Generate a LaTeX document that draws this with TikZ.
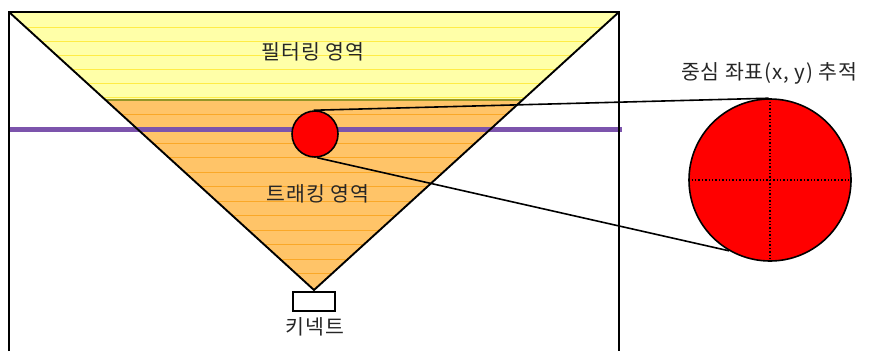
\documentclass[tikz,border=0pt]{standalone}
\usepackage{fontspec}
\setmainfont{Noto Sans CJK KR}
\newfontfamily\krfont[LetterSpace=4]{Noto Sans CJK KR}
\definecolor{yelbase}{RGB}{255,255,168}
\definecolor{yelline}{RGB}{255,236,70}
\definecolor{orbase}{RGB}{255,196,104}
\definecolor{orline}{RGB}{250,168,40}
\definecolor{purp}{RGB}{124,84,172}
\definecolor{sep}{RGB}{150,150,40}
\definecolor{redfill}{RGB}{255,0,0}
\tikzset{
  frameline/.style={line width=2pt, black},
  edgeline/.style={line width=1.9pt, black},
  ball/.style={circle, draw=black, line width=1.6pt, fill=redfill, inner sep=0pt},
  label/.style={font=\krfont\fontsize{20.5}{23}\selectfont, text=black!85, inner sep=0pt},
  zoomline/.style={line width=1.6pt, black},
  kinectbox/.style={draw=black, line width=1.7pt, fill=white, minimum width=42pt, minimum height=19pt, inner sep=0pt}
}
\begin{document}
\begin{tikzpicture}[x=1pt,y=-1pt]
\useasboundingbox (0,0) rectangle (874,351);
% coordinates
\coordinate (tl) at (9,12);
\coordinate (tr) at (619,12);
\coordinate (apex) at (314,290);
% fills
\begin{scope}
  \clip (tl) -- (tr) -- (apex) -- cycle;
  \fill[yelbase] (0,0) rectangle (874,100);
  \fill[orbase] (0,100) rectangle (874,351);
  \foreach \yy in {27,41,55,69,83,97}{
    \draw[yelline, line width=0.8pt] (0,\yy) -- (874,\yy);
  }
  \foreach \yy in {114,128.5,143,157.5,172,186.5,201,215.5,230,244.5,259,273.5,288}{
    \draw[orline, line width=0.8pt] (0,\yy) -- (874,\yy);
  }
  \draw[sep, line width=1.4pt] (0,100) -- (874,100);
\end{scope}
% purple scan line
\draw[purp, line width=5pt] (9,129) -- (622,129);
% frame
\draw[frameline] (9,351) -- (tl) -- (tr) -- (619,351);
% triangle edges
\draw[edgeline] (tl) -- (apex) -- (tr);
% kinect
\node[kinectbox] (kinect) at (314,301.5) {};
\node[label] (kinectlbl) at (315,327) {키넥트};
% labels
\node[label] (filter) at (313,52) {필터링 영역};
\node[label] (track) at (318,194) {트래킹 영역};
\node[label] (center) at (769,73) {중심 좌표(x, y) 추적};
% circles
\node[ball, minimum size=46pt] (small) at (315,134) {};
\node[ball, minimum size=162pt] (big) at (770,180) {};
\draw[zoomline] (small.93) -- (big.91);
\draw[zoomline] (small.-85) -- (big.240);
\draw[dotted, line width=1.4pt] (big.west) -- (big.east);
\draw[dotted, line width=1.4pt] (big.north) -- (big.south);
\end{tikzpicture}
\end{document}
